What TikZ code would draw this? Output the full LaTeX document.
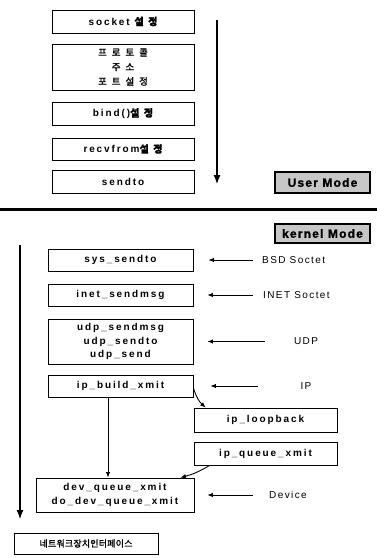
\documentclass[tikz,border=0pt]{standalone}
\usepackage{fontspec}
\setmainfont{Liberation Sans}[LetterSpace=19]
\newfontfamily\krf{Noto Sans CJK KR}[LetterSpace=45, FakeBold=1.5]
\newcommand\kt[1]{{\krf #1}}
\newcommand\ktw[1]{{\krf\addfontfeature{LetterSpace=52}#1}}
\usetikzlibrary{arrows.meta}
\tikzset{
  box/.style={draw, line width=0.8pt, inner sep=0pt, align=center,
    font=\fontsize{10}{14}\selectfont\bfseries},
  modebox/.style={draw, line width=1.4pt, fill=black!22, inner sep=0pt,
    minimum width=95pt, font=\fontsize{12}{13}\selectfont\bfseries\addfontfeature{LetterSpace=10,FakeBold=1.2}},
  lbl/.style={font=\fontsize{10}{11}\selectfont\addfontfeature{LetterSpace=14}, inner sep=0pt},
  la/.style={-{Latex[length=5.5pt,width=4.5pt]}, line width=0.9pt},
  ma/.style={-{Latex[length=9pt,width=7pt]}, line width=1.2pt},
}
\begin{document}
\begin{tikzpicture}[x=1pt,y=-1pt]
\useasboundingbox (0,0) rectangle (377,558);
% user mode
\node[box, minimum width=142pt, minimum height=23pt] (sock) at (123,21.5) {socket \kt{설정}};
\node[box, minimum width=142pt, minimum height=46pt, font=\fontsize{9.5}{14.5}\selectfont] (proto) at (123,67) {\ktw{프로토콜}\\\ktw{주소}\\\ktw{포트설정}};
\node[box, minimum width=142pt, minimum height=23pt] (bind) at (123,113.5) {bind()\kt{설정}};
\node[box, minimum width=142pt, minimum height=22pt] (recv) at (123,149) {recvfrom\kt{설정}};
\node[box, minimum width=142pt, minimum height=23pt] (send) at (123,181.5) {sendto};
\coordinate (ua1) at (217,20);
\coordinate (ua2) at (217,184);
\draw[ma] (ua1) -- (ua2);
\node[modebox, minimum height=21pt] (user) at (322.5,182.5) {User Mode};
% separator
\coordinate (s1) at (0,209);
\coordinate (s2) at (377,209);
\draw[line width=3pt] (s1) -- (s2);
% kernel
\node[modebox, minimum height=19pt] (kern) at (322.5,233.5) {kernel Mode};
\coordinate (ka1) at (20,245);
\coordinate (ka2) at (20,519);
\draw[ma] (ka1) -- (ka2);
\node[box, minimum width=145pt, minimum height=22pt] (sys) at (120.5,260) {sys\_sendto};
\node[box, minimum width=145pt, minimum height=22pt] (inet) at (120.5,295) {inet\_sendmsg};
\node[box, minimum width=145pt, minimum height=45pt, font=\fontsize{10}{13.5}\selectfont\bfseries] (udp) at (120.5,341.5) {udp\_sendmsg\\udp\_sendto\\udp\_send};
\node[box, minimum width=145pt, minimum height=22pt] (ipb) at (120.5,386) {ip\_build\_xmit};
\node[box, minimum width=143pt, minimum height=24pt] (iplo) at (265.5,420) {ip\_loopback};
\node[box, minimum width=143pt, minimum height=23pt] (ipq) at (265.5,453.5) {ip\_queue\_xmit};
\node[box, minimum width=158pt, minimum height=34pt] (dev) at (115,495) {dev\_queue\_xmit\\do\_dev\_queue\_xmit};
\node[box, minimum width=144pt, minimum height=21pt, font=\fontsize{9}{11}\selectfont] (net) at (86,543.5) {\krf\addfontfeature{LetterSpace=2}네트워크장치인터페이스};
% labels
\node[lbl, anchor=west] (bsd) at (262,260) {BSD Soctet};
\node[lbl, anchor=west] (inl) at (263,295) {INET Soctet};
\node[lbl] (udpl) at (306,341.5) {UDP};
\node[lbl] (ipl) at (306,386) {IP};
\node[lbl, anchor=west] (devl) at (269,495) {Device};
\draw[la] ([xshift=-9pt]bsd.west |- sys.east) -- ([xshift=15pt]sys.east);
\draw[la] ([xshift=-10pt]inl.west |- inet.east) -- ([xshift=14pt]inet.east);
\draw[la] ([xshift=-41pt]udpl.center |- udp.east) -- ([xshift=14pt]udp.east);
\draw[la] ([xshift=-48pt]ipl.center |- ipb.east) -- ([xshift=17pt]ipb.east);
\draw[la] ([xshift=-16pt]devl.west |- dev.east) -- ([xshift=13pt]dev.east);
% flow arrows
\draw[la] ([xshift=-12.5pt]ipb.south) -- ([xshift=-7pt]dev.north);
\draw[la] ([yshift=-2pt]ipb.east) to[bend right=15] ([xshift=12pt]iplo.north west);
\draw[la] ([xshift=16pt]ipq.south west) to[bend left=8] ([xshift=-14pt]dev.north east);
\end{tikzpicture}
\end{document}
